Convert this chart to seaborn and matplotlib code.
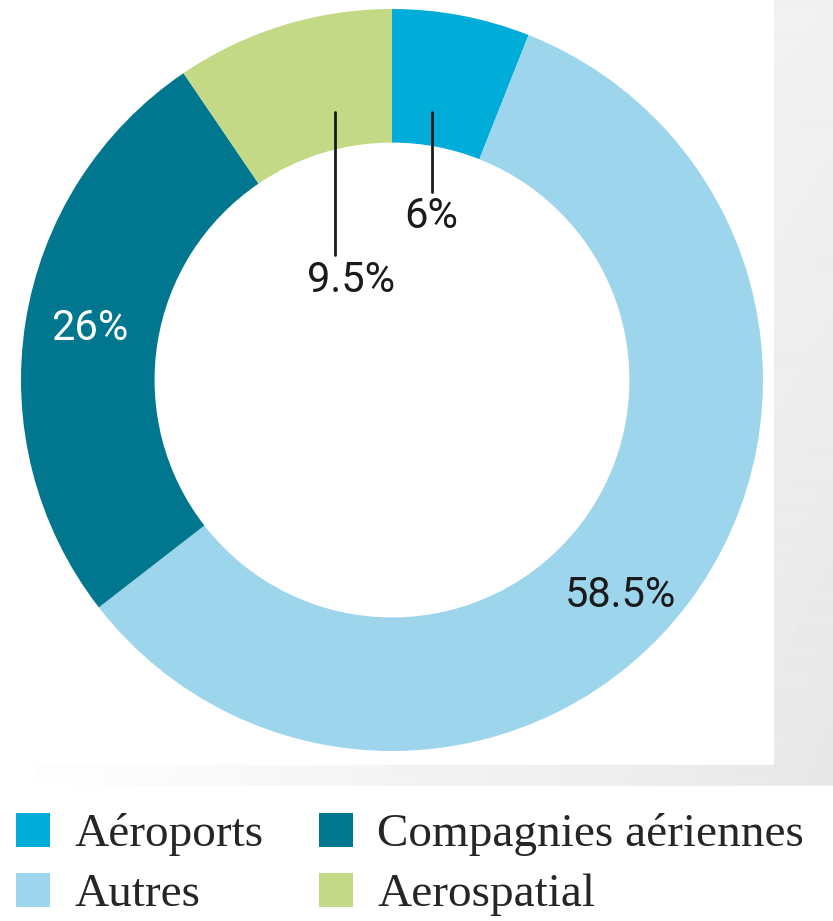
import numpy as np
import matplotlib
matplotlib.use('Agg')
import matplotlib.pyplot as plt
import seaborn as sns

sns.set_theme(style='white')

# --- données ---
categories = ['Aéroports', 'Autres', 'Compagnies aériennes', 'Aerospatial']
parts = [6, 58.5, 26, 9.5]
pct_labels = ['6%', '58.5%', '26%', '9.5%']
colors = sns.color_palette(['#00ACD8', '#9DD5EC', '#00778F', '#C4D985'])

W, H = 833, 921
fig = plt.figure(figsize=(W / 100, H / 100), dpi=100)
fig.patch.set_facecolor('white')

# fond : panneau blanc + ombre grise à droite et en bas
xx = np.arange(W)[None, :] / W
yy = np.arange(H)[:, None] / H
shade = 1 - 0.10 * xx * (0.55 + 0.45 * yy)
mask = np.zeros((H, W), bool)
mask[:786, 774:] = True
mask[765:786, :] = True
bg = np.where(mask, shade, 1.0)
bg_ax = fig.add_axes([0, 0, 1, 1], zorder=-1)
bg_ax.imshow(bg, cmap='gray', vmin=0, vmax=1, aspect='auto', interpolation='bilinear')
bg_ax.axis('off')

# anneau
cx, cy, r = 392, 380, 371
ax = fig.add_axes([(cx - r) / W, (H - cy - r) / H, 2 * r / W, 2 * r / H])
ax.patch.set_alpha(0)
wedges, _ = ax.pie(parts, colors=colors, startangle=90, counterclock=False,
                   radius=1, wedgeprops=dict(width=0.36, edgecolor='none'))
ax.set_xlim(-1, 1)
ax.set_ylim(-1, 1)
ax.axis('off')

lab_font = dict(family=['Roboto', 'DejaVu Sans'], fontsize=30, fontweight='normal')

# étiquettes
ax.plot([0.108, 0.108], [0.722, 0.507], color='#1a1a1a', lw=2)
ax.text(0.105, 0.442, pct_labels[0], ha='center', va='center', color='#1a1a1a', **lab_font)
ax.plot([-0.154, -0.154], [0.722, 0.337], color='#1a1a1a', lw=2)
ax.text(-0.111, 0.267, pct_labels[3], ha='center', va='center', color='#1a1a1a', **lab_font)
ax.text(-0.814, 0.140, pct_labels[2], ha='center', va='center', color='white', **lab_font)
ax.text(0.615, -0.582, pct_labels[1], ha='center', va='center', color='#1a1a1a', **lab_font)

# légende
fs = 34
fig.legend(wedges, categories, ncol=2, loc='upper left',
           bbox_to_anchor=(16 / W, 1 - 813 / H), frameon=False,
           prop=dict(family=['Liberation Serif', 'DejaVu Serif'], size=fs),
           handlelength=0.73, handleheight=0.73, handletextpad=0.51,
           columnspacing=1.17, labelspacing=0.34, borderpad=0, borderaxespad=0)

fig.savefig('out.png', dpi=100, facecolor='white')
